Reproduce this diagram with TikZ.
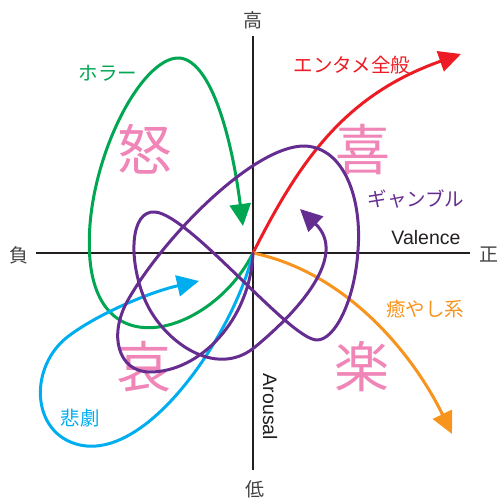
\documentclass[tikz,border=0pt]{standalone}
\usepackage{fontspec}
\setmainfont{Noto Sans CJK JP}
\newfontfamily\latfont{Liberation Sans}
\usetikzlibrary{arrows.meta}
\definecolor{cred}{RGB}{237,28,36}
\definecolor{corange}{RGB}{247,148,30}
\definecolor{cgreen}{RGB}{0,166,81}
\definecolor{ccyan}{RGB}{0,174,239}
\definecolor{cpurple}{RGB}{102,45,145}
\definecolor{cpink}{RGB}{240,134,184}
\definecolor{caxis}{RGB}{35,31,32}
\begin{document}
\begin{tikzpicture}[x=1pt,y=-1pt,
  axisline/.style={line width=2pt, draw=caxis},
  curve/.style={line width=3pt, line cap=round, line join=round},
  tipped/.style={-{Triangle[length=22pt,width=21pt]}},
  emo/.style={text=cpink, font=\fontsize{55}{55}\selectfont, inner sep=0pt},
  lab/.style={font=\fontsize{19.5}{20}\selectfont, inner sep=0pt},
  axlab/.style={text=caxis!85!white, font=\fontsize{19}{20}\selectfont, inner sep=0pt},
  ]
\useasboundingbox (0,0) rectangle (499,502);
\coordinate (o) at (253,253);
\coordinate (xl) at (36,253);
\coordinate (xr) at (470,253);
\coordinate (yt) at (253,36);
\coordinate (yb) at (253,470);

% big emotion characters
\node[emo] (ikari) at (145,149) {怒};
\node[emo] (yoro) at (363,150) {喜};
\node[emo] (kana) at (144,367) {哀};
\node[emo] (tano) at (362,367) {楽};

% axes
\draw[axisline] (xl) -- (xr);
\draw[axisline] (yt) -- (yb);
\node[axlab] (hi) at (253,20) {高};
\node[axlab] (lo) at (255,489) {低};
\node[axlab] (neg) at (19,255) {負};
\node[axlab] (pos) at (489,255) {正};
\node[lab, text=caxis, font=\latfont\fontsize{19.5}{20}\selectfont] (val) at (426,238) {Valence};
\node[lab, text=caxis, rotate=-90, font=\latfont\fontsize{19.5}{20}\selectfont] (aro) at (270,407) {Arousal};

% horror (green)
\coordinate (g1) at (90,260);
\coordinate (g2) at (180,58);
\coordinate (g3) at (243,226);
\draw[curve, tipped, cgreen] (o) .. controls (215,330) and (100,370) .. (g1)
  .. controls (82,170) and (140,55) .. (g2)
  .. controls (212,62) and (232,140) .. (g3);
\node[lab, text=cgreen] (horror) at (108,73) {ホラー};

% tragedy (cyan)
\coordinate (c1) at (80,445);
\coordinate (c2) at (70,335);
\coordinate (c3) at (199,281);
\draw[curve, tipped, ccyan] (o) .. controls (235,330) and (150,460) .. (c1)
  .. controls (30,434) and (28,365) .. (c2)
  .. controls (100,313) and (150,292) .. (c3);
\node[lab, text=ccyan] (higeki) at (80,418) {悲劇};

% entertainment (red)
\coordinate (r1) at (461,54);
\draw[curve, tipped, cred] (o) .. controls (300,160) and (345,95) .. (r1);
\node[lab, text=cred] (ent) at (352,65) {エンタメ全般};

% healing (orange)
\coordinate (y1) at (452,434);
\draw[curve, tipped, corange] (o) .. controls (345,272) and (412,352) .. (y1);
\node[lab, text=corange] (iyashi) at (425,309) {癒やし系};

% gamble (purple)
\coordinate (p1) at (150,372);
\coordinate (p2) at (128,300);
\coordinate (p3) at (305,146);
\coordinate (p4) at (358,250);
\coordinate (p5) at (317,340);
\coordinate (p6) at (155,212);
\coordinate (p7) at (145,300);
\coordinate (p8) at (255,347);
\coordinate (p9) at (300,209);
\draw[curve, tipped, cpurple] (o) .. controls (250,320) and (200,372) .. (p1)
  .. controls (118,372) and (108,335) .. (p2)
  .. controls (165,235) and (255,145) .. (p3)
  .. controls (345,148) and (362,200) .. (p4)
  .. controls (355,300) and (335,340) .. (p5)
  .. controls (290,340) and (190,215) .. (p6)
  .. controls (130,210) and (128,260) .. (p7)
  .. controls (162,340) and (215,380) .. (p8)
  .. controls (300,310) and (348,255) .. (p9);
\node[lab, text=cpurple] (gamble) at (416,199) {ギャンブル};
\end{tikzpicture}
\end{document}
